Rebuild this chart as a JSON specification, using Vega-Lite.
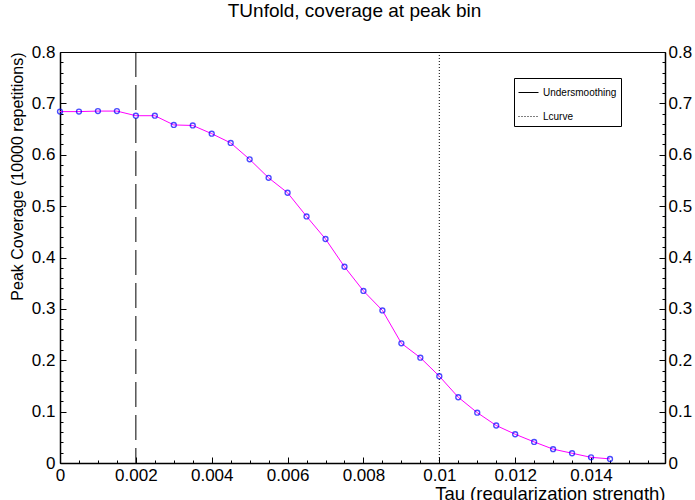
{
  "$schema": "https://vega.github.io/schema/vega-lite/v6.json",
  "autosize": "none",
  "width": 605,
  "height": 411,
  "padding": {"left": 60, "top": 52, "right": 30, "bottom": 37},
  "background": "white",
  "title": {"text": "TUnfold, coverage at peak bin", "font": "Liberation Sans", "fontSize": 19, "fontWeight": "normal", "color": "black", "anchor": "middle", "offset": 22, "dx": -8},
  "config": {
    "view": {"stroke": "black", "strokeWidth": 1},
    "axis": {"grid": false, "labelFont": "Liberation Sans", "labelFontSize": 17, "labelColor": "black", "titleFont": "Liberation Sans", "titleFontSize": 16, "titleFontWeight": "normal", "titleColor": "black", "domainColor": "black", "domainWidth": 1.5, "tickColor": "black", "tickWidth": 1, "tickSize": -6, "labelFlush": false, "labelOverlap": false, "labelBound": false}
  },
  "datasets": {
    "cov": [
      {"tau": 0, "coverage": 0.684},
      {"tau": 0.0005, "coverage": 0.684},
      {"tau": 0.001, "coverage": 0.685},
      {"tau": 0.0015, "coverage": 0.685},
      {"tau": 0.002, "coverage": 0.676},
      {"tau": 0.0025, "coverage": 0.676},
      {"tau": 0.003, "coverage": 0.658},
      {"tau": 0.0035, "coverage": 0.657},
      {"tau": 0.004, "coverage": 0.641},
      {"tau": 0.0045, "coverage": 0.623},
      {"tau": 0.005, "coverage": 0.591},
      {"tau": 0.0055, "coverage": 0.555},
      {"tau": 0.006, "coverage": 0.526},
      {"tau": 0.0065, "coverage": 0.48},
      {"tau": 0.007, "coverage": 0.436},
      {"tau": 0.0075, "coverage": 0.382},
      {"tau": 0.008, "coverage": 0.335},
      {"tau": 0.0085, "coverage": 0.297},
      {"tau": 0.009, "coverage": 0.233},
      {"tau": 0.0095, "coverage": 0.205},
      {"tau": 0.01, "coverage": 0.169},
      {"tau": 0.0105, "coverage": 0.128},
      {"tau": 0.011, "coverage": 0.098},
      {"tau": 0.0115, "coverage": 0.073},
      {"tau": 0.012, "coverage": 0.056},
      {"tau": 0.0125, "coverage": 0.041},
      {"tau": 0.013, "coverage": 0.027},
      {"tau": 0.0135, "coverage": 0.019},
      {"tau": 0.014, "coverage": 0.011},
      {"tau": 0.0145, "coverage": 0.008}
    ],
    "marks": [
      {"tau": 0.002, "method": "Undersmoothing"},
      {"tau": 0.01, "method": "Lcurve"}
    ]
  },
  "encoding": {
    "x": {
      "field": "tau", "type": "quantitative",
      "scale": {"domain": [0, 0.01595], "nice": false, "zero": false},
      "axis": {
        "orient": "bottom",
        "title": "Tau (regularization strength)",
        "titleFontSize": 18.5,
        "titleAnchor": "end",
        "titlePadding": 1,
        "values": [0,0.0005,0.001,0.0015,0.002,0.0025,0.003,0.0035,0.004,0.0045,0.005,0.0055,0.006,0.0065,0.007,0.0075,0.008,0.0085,0.009,0.0095,0.01,0.0105,0.011,0.0115,0.012,0.0125,0.013,0.0135,0.014,0.0145,0.015,0.0155],
        "labelExpr": "round(datum.value*2000) % 4 == 0 ? format(round(datum.value*2000)/2000, '~g') : ''",
        "tickDash": {"condition": {"test": "round(datum.value*2000) % 4 == 0", "value": []}, "value": [3, 10]},
        "labelPadding": 10
      }
    }
  },
  "layer": [
    {
      "data": {"name": "marks"},
      "mark": {"type": "rule", "color": "black", "strokeWidth": 1},
      "encoding": {
        "strokeDash": {
          "field": "method", "type": "nominal",
          "scale": {"domain": ["Undersmoothing", "Lcurve"], "range": [[25, 8], [1, 2]]},
          "legend": {
            "title": null, "orient": "none", "legendX": 454, "legendY": 26,
            "strokeColor": "black", "fillColor": "white", "padding": 4,
            "symbolType": "stroke", "symbolSize": 400, "symbolStrokeColor": "black", "symbolStrokeWidth": 1,
            "labelFont": "Liberation Sans", "labelFontSize": 10, "labelColor": "black", "labelOffset": 4,
            "rowPadding": 8
          }
        }
      }
    },
    {
      "data": {"name": "cov"},
      "mark": {"type": "line", "color": "#ff00ff", "strokeWidth": 1},
      "encoding": {
        "y": {
          "field": "coverage", "type": "quantitative",
          "scale": {"domain": [0, 0.8], "nice": false},
          "axis": {
            "orient": "left",
            "title": "Peak Coverage (10000 repetitions)",
            "titleAnchor": "end",
            "titleAlign": "right",
            "titlePadding": 6,
            "values": [0,0.02,0.04,0.06,0.08,0.1,0.12,0.14,0.16,0.18,0.2,0.22,0.24,0.26,0.28,0.3,0.32,0.34,0.36,0.38,0.4,0.42,0.44,0.46,0.48,0.5,0.52,0.54,0.56,0.58,0.6,0.62,0.64,0.66,0.68,0.7,0.72,0.74,0.76,0.78,0.8],
            "labelExpr": "round(datum.value*50) % 5 == 0 ? format(round(datum.value*10)/10, '~g') : ''",
            "tickDash": {"condition": {"test": "round(datum.value*50) % 5 == 0", "value": []}, "value": [3, 10]},
            "labelPadding": 11
          }
        }
      }
    },
    {
      "data": {"name": "cov"},
      "mark": {"type": "point", "shape": "circle", "filled": false, "color": "#0000ff", "size": 24, "strokeWidth": 1.4},
      "encoding": {
        "y": {
          "field": "coverage", "type": "quantitative",
          "scale": {"domain": [0, 0.8], "nice": false},
          "axis": {
            "orient": "right",
            "title": null,
            "values": [0,0.02,0.04,0.06,0.08,0.1,0.12,0.14,0.16,0.18,0.2,0.22,0.24,0.26,0.28,0.3,0.32,0.34,0.36,0.38,0.4,0.42,0.44,0.46,0.48,0.5,0.52,0.54,0.56,0.58,0.6,0.62,0.64,0.66,0.68,0.7,0.72,0.74,0.76,0.78,0.8],
            "labelExpr": "round(datum.value*50) % 5 == 0 ? format(round(datum.value*10)/10, '~g') : ''",
            "tickDash": {"condition": {"test": "round(datum.value*50) % 5 == 0", "value": []}, "value": [3, 10]},
            "labelPadding": 9
          }
        }
      }
    }
  ],
  "resolve": {"scale": {"y": "shared"}, "axis": {"y": "independent"}}
}
